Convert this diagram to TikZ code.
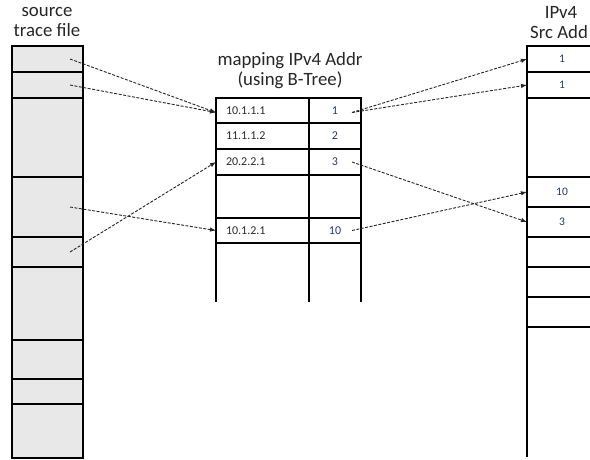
\documentclass[tikz,border=0pt]{standalone}
\usepackage{fontspec}
\setmainfont{Carlito}
\usepackage{tikz}
\usetikzlibrary{arrows.meta,calc,positioning}
\definecolor{tracefill}{HTML}{E8E8E8}
\definecolor{addrtext}{HTML}{2B2B2B}
\definecolor{idtext}{HTML}{1F3A64}
\tikzset{
	cell/.style={draw, line width=1.3pt, inner sep=0pt, outer sep=0pt},
	trace/.style={cell, fill=tracefill, minimum width=71, minimum height=#1},
	key/.style={cell, minimum height=#1, inner xsep=10pt, text width=73pt, align=left,
		font=\fontsize{12}{14}\selectfont, text=addrtext},
	val/.style={cell, minimum height=#1, minimum width=52,
		font=\fontsize{12}{14}\selectfont, text=idtext},
	src/.style={cell, minimum height=#1, minimum width=70,
		font=\fontsize{11.5}{13}\selectfont, text=idtext},
	title/.style={align=center, font=\fontsize{18.8}{20}\selectfont, inner sep=0pt, text=black!85},
	link/.style={dash pattern=on 3pt off 1.5pt, line width=0.9pt, black!85,
		-{Latex[length=6pt,width=4.5pt]}},
}
\begin{document}
\begin{tikzpicture}[x=1pt, y=-1pt]
	\clip (0,0) rectangle (590,459);
	% source trace file
	\node[title] (srctitle) at (47,22) {source\\trace file};
	\node[trace=26, anchor=north west] (s1) at (12,46) {};
	\node[trace=26, below=0pt of s1] (s2) {};
	\node[trace=79, below=0pt of s2] (s3) {};
	\node[trace=60, below=0pt of s3] (s4) {};
	\node[trace=30, below=0pt of s4] (s5) {};
	\node[trace=73, below=0pt of s5] (s6) {};
	\node[trace=39, below=0pt of s6] (s7) {};
	\node[trace=25, below=0pt of s7] (s8) {};
	\node[trace=54, below=0pt of s8] (s9) {};
	% mapping table
	\node[title] (maptitle) at (290,71) {mapping IPv4 Addr\\(using B-Tree)};
	\node[key=25, anchor=north west] (k1) at (216,98) {10.1.1.1};
	\node[key=26, below=0pt of k1] (k2) {11.1.1.2};
	\node[key=26, below=0pt of k2] (k3) {20.2.2.1};
	\node[key=43, below=0pt of k3] (k4) {};
	\node[key=25, below=0pt of k4] (k5) {10.1.2.1};
	\node[val=25, right=0pt of k1] (v1) {1};
	\node[val=26, right=0pt of k2] (v2) {2};
	\node[val=26, right=0pt of k3] (v3) {3};
	\node[val=43, right=0pt of k4] (v4) {};
	\node[val=25, right=0pt of k5] (v5) {10};
	\draw[line width=1.3pt]
		(k5.south west) -- +(0,59)
		(v5.south west) -- +(0,59)
		(v5.south east) -- +(0,59);
	% IPv4 src addr column
	\node[title] (addrtitle) at (561,12) {IPv4};
	\node[title, anchor=west] (addrtitle2) at (530,32) {Src Add};
	\node[src=26, anchor=north west] (r1) at (527,46) {1};
	\node[src=26, below=0pt of r1] (r2) {1};
	\node[src=79, below=0pt of r2] (r3) {};
	\node[src=30, below=0pt of r3] (r4) {10};
	\node[src=30, below=0pt of r4] (r5) {3};
	\node[src=30, below=0pt of r5] (r6) {};
	\node[src=30, below=0pt of r6] (r7) {};
	\node[src=30, below=0pt of r7] (r8) {};
	\draw[line width=1.3pt] (r8.south west) -- +(0,130);
	% links
	\draw[link] ([xshift=-13pt]s1.east) -- ([yshift=-2pt]k1.west);
	\draw[link] ([xshift=-13pt]s2.east) -- ([yshift=-2pt]k1.west);
	\draw[link] ([xshift=-13pt]s4.east) -- (k5.west);
	\draw[link] ([xshift=-13pt]s5.east) -- (k3.west);
	\draw[link] ([xshift=-9pt,yshift=-2pt]v1.east) -- (r1.west);
	\draw[link] ([xshift=-9pt,yshift=-2pt]v1.east) -- (r2.west);
	\draw[link] ([xshift=-9pt]v3.east) -- (r5.west);
	\draw[link] ([xshift=-9pt]v5.east) -- (r4.west);
\end{tikzpicture}
\end{document}
